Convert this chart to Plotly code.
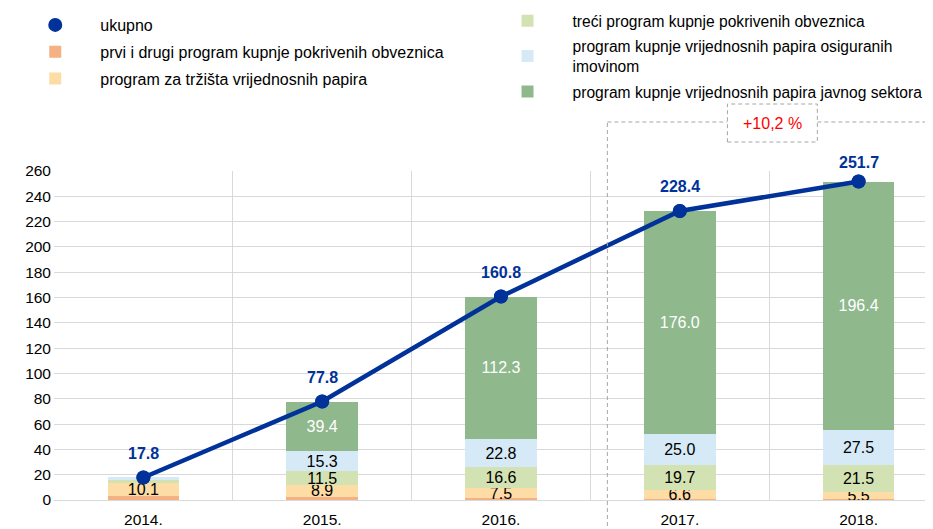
import plotly.graph_objects as go

years = ["2014.", "2015.", "2016.", "2017.", "2018."]
prvi = [3.5, 2.7, 1.6, 1.1, 0.8]
trzista = [10.1, 8.9, 7.5, 6.6, 5.5]
treci = [2.3, 11.5, 16.6, 19.7, 21.5]
abs_vals = [1.9, 15.3, 22.8, 25.0, 27.5]
javni = [0.0, 39.4, 112.3, 176.0, 196.4]
ukupno = [17.8, 77.8, 160.8, 228.4, 251.7]
growth_label = "+10,2 %"

names = {
    "ukupno": "ukupno",
    "prvi": "prvi i drugi program kupnje pokrivenih obveznica",
    "trzista": "program za tržišta vrijednosnih papira",
    "treci": "treći program kupnje pokrivenih obveznica",
    "abs": "program kupnje vrijednosnih papira osiguranih<br>imovinom",
    "javni": "program kupnje vrijednosnih papira javnog sektora",
}

FONT = "Liberation Sans, Arial, sans-serif"
BLUE = "#003299"

def labels(vals, show=True):
    return [f"{v:.1f}" if (show and v >= 5) else "" for v in vals]

fig = go.Figure()

bar_specs = [
    ("prvi", prvi, "#f4b183", False, "black", "legend", 2),
    ("trzista", trzista, "#fddca5", True, "black", "legend", 3),
    ("treci", treci, "#d3e2b2", True, "black", "legend2", 4),
    ("abs", abs_vals, "#d5eaf6", True, "black", "legend2", 5),
    ("javni", javni, "#8fb88d", True, "white", "legend2", 6),
]
for key, vals, color, show, tcolor, leg, rank in bar_specs:
    fig.add_trace(go.Bar(
        x=years, y=vals, name=names[key], marker=dict(color=color, line=dict(width=0)),
        text=labels(vals, show), textposition="inside", insidetextanchor="middle",
        textangle=0, textfont=dict(color=tcolor, size=16, family=FONT),
        width=0.4, legend=leg, legendgroup=key, legendrank=rank,
        hoverinfo="skip",
    ))

fig.add_trace(go.Scatter(
    x=years, y=ukupno, mode="lines+markers", line=dict(color=BLUE, width=4.5),
    marker=dict(color=BLUE, size=14), showlegend=False, hoverinfo="skip",
))
fig.add_trace(go.Scatter(
    x=years, y=ukupno, mode="markers", name=names["ukupno"],
    marker=dict(color=BLUE, size=14), legend="legend", legendgroup="ukupno",
    legendrank=1, hoverinfo="skip",
))

for i, yv in enumerate(ukupno):
    fig.add_annotation(x=i, y=yv, xref="x", yref="y", text=f"<b>{yv:.1f}</b>",
                       showarrow=False, yshift=(19 if i == len(ukupno) - 1 else 24),
                       font=dict(color=BLUE, size=16, family=FONT))

# the page places the figure 8px from the top-left corner of the window
OFF = 8.0
W, H = 925, 521
L, R, T, B = 45.5, 924.5, 163.0, 492.0
def px(x):
    return (x - OFF - L) / (R - L)
def py(y):
    return (B - (y - OFF)) / (B - T)

dash_line = dict(color="#a6a6a6", width=1, dash="4px,3px")
fig.add_shape(type="line", xref="paper", yref="paper", x0=px(607.5), x1=px(607.5),
              y0=py(540), y1=py(122), line=dash_line)
fig.add_shape(type="line", xref="paper", yref="paper", x0=px(607.5), x1=px(932),
              y0=py(122), y1=py(122), line=dash_line)
fig.add_shape(type="line", xref="paper", yref="paper", x0=px(932), x1=px(932),
              y0=py(540), y1=py(122), line=dict(color="#d9d9d9", width=1))
fig.add_shape(type="rect", xref="paper", yref="paper", x0=px(727.7), x1=px(817.7),
              y0=py(142), y1=py(104), line=dash_line, fillcolor="white")
fig.add_annotation(xref="paper", yref="paper", x=px(772.7), y=py(123), text=growth_label,
                   xanchor="center", yanchor="middle",
                   showarrow=False, font=dict(color="#ff0000", size=16, family=FONT))

fig.update_layout(
    width=W, height=H,
    margin=dict(l=L, r=W - R, t=T, b=H - B, pad=0, autoexpand=False),
    barmode="stack",
    plot_bgcolor="white", paper_bgcolor="white",
    font=dict(family=FONT, size=16, color="black"),
    uniformtext=dict(minsize=16, mode="show"),
    legend=dict(xref="paper", yref="paper", x=px(9.7), y=py(8.0),
                xanchor="left", yanchor="top", traceorder="grouped",
                tracegroupgap=3, itemwidth=80, font=dict(size=16, family=FONT),
                bgcolor="rgba(0,0,0,0)"),
    legend2=dict(xref="paper", yref="paper", x=px(482.5), y=py(4.0),
                 xanchor="left", yanchor="top", traceorder="grouped",
                 tracegroupgap=2, itemwidth=80, font=dict(size=15.6, family=FONT),
                 bgcolor="rgba(0,0,0,0)"),
    showlegend=True,
)
fig.update_xaxes(type="category", range=[-0.5, -0.5 + (R - L) / 179.0],
                 tickson="boundaries", showgrid=True, gridcolor="#d9d9d9", gridwidth=1,
                 showline=True, linecolor="#d9d9d9", ticks="", automargin=False,
                 ticklabelstandoff=5,
                 tickfont=dict(size=15.5, family=FONT, color="black"))
fig.update_yaxes(range=[0, 260], dtick=20, showgrid=True, gridcolor="#d9d9d9",
                 zeroline=False, showline=False, ticks="", ticklabelstandoff=2,
                 automargin=False,
                 tickfont=dict(size=15.5, family=FONT, color="black"))

fig.write_html("out.html")
